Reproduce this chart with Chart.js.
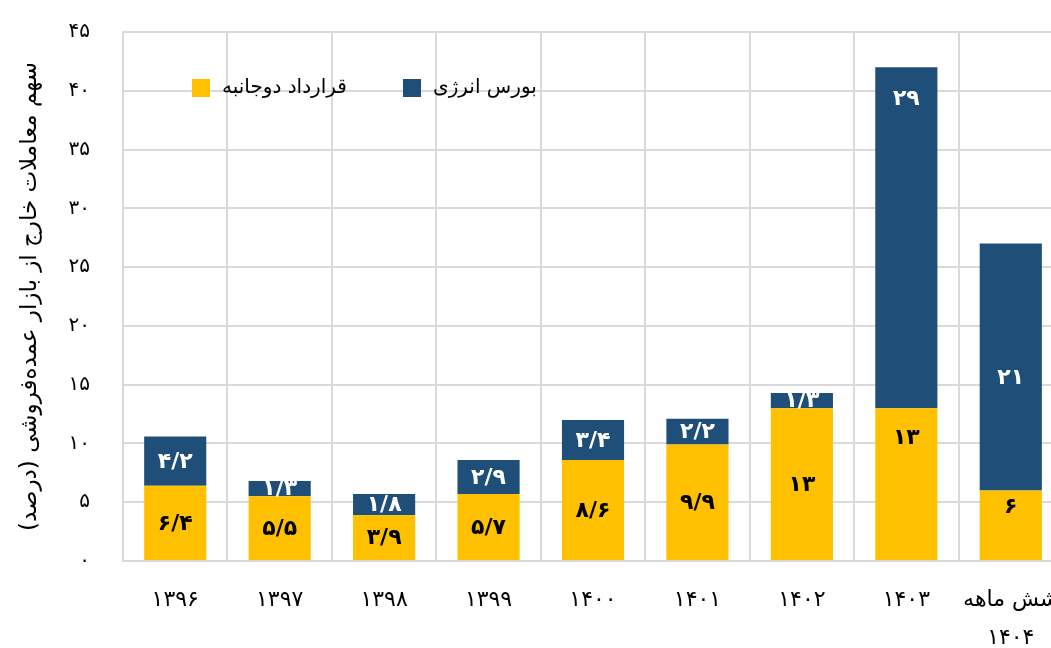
<html>
<head>
	<meta charset="utf-8">
	<title>سهم معاملات خارج از بازار عمده‌فروشی</title>
	<script src="https://cdn.jsdelivr.net/npm/chart.js@4.4.1/dist/chart.umd.min.js"></script>
	<style>
		body { margin: 0; overflow: hidden; background: #fff; }
		#wrap { width: 1080px; height: 648px; }
	</style>
</head>
<body>
	<div id="wrap">
		<canvas id="myChart"></canvas>
	</div>

	<script>
		// سال‌ها و سهم هر روش (درصد)
		var categories = ['۱۳۹۶', '۱۳۹۷', '۱۳۹۸', '۱۳۹۹', '۱۴۰۰', '۱۴۰۱', '۱۴۰۲', '۱۴۰۳', ['شش ماهه', '۱۴۰۴']];
		var bilateral = [6.4, 5.5, 3.9, 5.7, 8.6, 9.9, 13, 13, 6];
		var energyExchange = [4.2, 1.3, 1.8, 2.9, 3.4, 2.2, 1.3, 29, 21];
		var seriesNames = ['قرارداد دوجانبه', 'بورس انرژی'];

		var FONT = 'DejaVu Sans';
		var YELLOW = '#FFC000';
		var BLUE = '#1F4E79';
		var GRID = '#d9d9d9';

		function toFa(n) {
			return String(n).replace('.', '/').replace(/\d/g, function (d) { return '۰۱۲۳۴۵۶۷۸۹'[d]; });
		}

		// برچسب داخل هر قطعه از ستون
		var segLabels = {
			id: 'segLabels',
			afterDatasetsDraw: function (chart, args, opts) {
				var ctx = chart.ctx;
				ctx.save();
				ctx.font = 'bold 22px "' + FONT + '"';
				ctx.textAlign = 'center';
				ctx.textBaseline = 'middle';
				chart.data.datasets.forEach(function (ds, di) {
					var meta = chart.getDatasetMeta(di);
					meta.data.forEach(function (bar, i) {
						var p = bar.getProps(['x', 'y', 'base'], true);
						var top = Math.min(p.y, p.base), bottom = Math.max(p.y, p.base);
						var off = opts.fromTop[di + ',' + i];
						var ly = off != null ? top + off : (top + bottom) / 2;
						ctx.fillStyle = opts.colors[di];
						ctx.fillText(toFa(ds.data[i]), p.x, ly + 1);
					});
				});
				ctx.restore();
			}
		};

		// راهنمای داخل ناحیه نمودار
		var innerLegend = {
			id: 'innerLegend',
			afterDraw: function (chart, args, opts) {
				var ctx = chart.ctx;
				var a = chart.chartArea;
				ctx.save();
				ctx.font = '20px "' + FONT + '"';
				ctx.textBaseline = 'middle';
				ctx.textAlign = 'left';
				chart.data.datasets.forEach(function (ds, di) {
					var x = a.left + opts.x[di];
					var y = a.top + opts.y;
					ctx.fillStyle = ds.backgroundColor;
					ctx.fillRect(x, y - 9, 18, 18);
					ctx.fillStyle = '#000';
					ctx.fillText(ds.label, x + 30, y);
				});
				ctx.restore();
			}
		};

		var ctx = document.getElementById('myChart').getContext('2d');
		var chart = new Chart(ctx, {
			type: 'bar',
			data: {
				labels: categories,
				datasets: [{
					label: seriesNames[0],
					backgroundColor: YELLOW,
					data: bilateral
				},
				{
					label: seriesNames[1],
					backgroundColor: BLUE,
					data: energyExchange
				}]
			},
			plugins: [segLabels, innerLegend],
			options: {
				responsive: true,
				maintainAspectRatio: false,
				animation: false,
				layout: {
					padding: { top: 32, right: 17, left: 0, bottom: 0 }
				},
				datasets: {
					bar: { categoryPercentage: 1, barPercentage: 0.595 }
				},
				scales: {
					x: {
						stacked: true,
						grid: { color: GRID, lineWidth: 2, drawTicks: false, offset: true },
						border: { color: GRID, width: 2 },
						ticks: {
							color: '#000',
							padding: 20,
							maxRotation: 0,
							font: { family: FONT, size: 22, lineHeight: 1.75 }
						},
						afterFit: function (scale) { scale.height = 87; }
					},
					y: {
						stacked: true,
						min: 0,
						max: 45,
						grid: { color: GRID, lineWidth: 2, drawTicks: false },
						border: { color: GRID, width: 2 },
						ticks: {
							stepSize: 5,
							color: '#000',
							padding: 33,
							font: { family: FONT, size: 20 },
							callback: function (v) { return toFa(v); }
						},
						title: {
							display: true,
							text: 'سهم معاملات خارج از بازار عمده‌فروشی (درصد)',
							color: '#000',
							padding: { top: 16, bottom: 0 },
							font: { family: FONT, size: 23 }
						},
						afterFit: function (scale) {
							scale.width = 123;
							scale.paddingTop = 0;
							scale.paddingBottom = 0;
						}
					}
				},
				plugins: {
					legend: { display: false },
					tooltip: { enabled: false },
					segLabels: {
						colors: ['#000', '#fff'],
						fromTop: { '0,7': 29, '1,7': 31, '0,8': 16, '1,8': 134 }
					},
					innerLegend: {
						x: [69, 280],
						y: 56
					}
				}
			}
		});
	</script>
</body>
</html>
